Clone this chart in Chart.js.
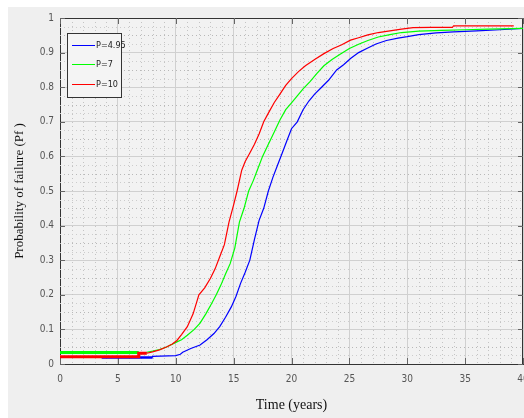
<!DOCTYPE html>
<html>
<head>
<meta charset="utf-8">
<script src="https://cdn.jsdelivr.net/npm/chart.js@4.4.1/dist/chart.umd.min.js"></script>
<style>
  html, body { margin: 0; padding: 0; background: #fff; overflow: hidden; }
  #wrap { width: 540px; height: 418px; }
</style>
</head>
<body>
<div id="wrap"><canvas id="pfChart" width="540" height="418"></canvas></div>
<script>
// tick labels
const xTicks = [0, 5, 10, 15, 20, 25, 30, 35, 40];
const yTicks = [0, 0.1, 0.2, 0.3, 0.4, 0.5, 0.6, 0.7, 0.8, 0.9, 1];

// series labels
const seriesLabels = ['P=4.95', 'P=7', 'P=10'];

// P=4.95 (blue)
const yearsBlue = [3.6, 8.0, 8.0, 10.0, 10.4, 10.6, 11.3, 12.1, 12.7, 13.3, 13.8, 14.3, 14.8, 15.2, 15.6, 16.0, 16.4, 16.8, 17.2, 17.6, 18.0, 18.4, 18.8, 19.2, 19.6, 20.0, 20.5, 21.0, 21.5, 22.0, 22.6, 23.2, 23.9, 24.5, 25.1, 25.8, 26.5, 27.3, 28.2, 29.2, 30.0, 31.0, 32.5, 34.0, 36.0, 38.0, 40.0];
const probBlue = [0.019, 0.019, 0.022, 0.024, 0.028, 0.034, 0.045, 0.055, 0.07, 0.088, 0.108, 0.135, 0.165, 0.195, 0.233, 0.265, 0.30, 0.36, 0.415, 0.45, 0.50, 0.54, 0.575, 0.61, 0.645, 0.68, 0.70, 0.735, 0.76, 0.78, 0.80, 0.82, 0.85, 0.865, 0.883, 0.9, 0.912, 0.925, 0.935, 0.942, 0.946, 0.952, 0.957, 0.96, 0.963, 0.966, 0.97];

// P=7 (green)
const yearsGreen = [0, 6.8, 7.5, 8.0, 8.6, 9.2, 9.7, 10.1, 10.5, 11.0, 11.6, 12.1, 12.6, 13.1, 13.5, 13.9, 14.3, 14.7, 15.1, 15.5, 15.9, 16.3, 16.7, 17.1, 17.5, 18.0, 18.5, 19.0, 19.5, 20.0, 20.5, 21.0, 21.6, 22.2, 22.8, 23.5, 24.2, 25.0, 25.8, 26.6, 27.5, 28.5, 29.5, 31.0, 33.0, 35.0, 37.0, 40.0];
const probGreen = [0.033, 0.033, 0.034, 0.037, 0.042, 0.049, 0.057, 0.064, 0.07, 0.083, 0.1, 0.118, 0.145, 0.175, 0.2, 0.228, 0.26, 0.29, 0.335, 0.41, 0.45, 0.5, 0.53, 0.565, 0.6, 0.635, 0.67, 0.705, 0.735, 0.755, 0.775, 0.795, 0.816, 0.84, 0.862, 0.88, 0.895, 0.912, 0.924, 0.935, 0.945, 0.952, 0.958, 0.962, 0.964, 0.966, 0.968, 0.97];

// P=10 (red)
const yearsRed = [0, 6.8, 6.8, 7.5, 8.0, 8.6, 9.2, 9.7, 10.1, 10.5, 11.0, 11.5, 12.0, 12.5, 13.0, 13.4, 13.8, 14.2, 14.6, 15.0, 15.3, 15.7, 16.0, 16.4, 16.8, 17.2, 17.6, 18.0, 18.5, 19.0, 19.5, 20.0, 20.6, 21.2, 22.0, 22.8, 23.6, 24.3, 25.1, 25.8, 26.6, 27.5, 28.5, 29.5, 30.5, 32.0, 33.9, 34.0, 36.0, 39.2];
const probRed = [0.021, 0.021, 0.031, 0.031, 0.035, 0.041, 0.049, 0.058, 0.068, 0.085, 0.108, 0.145, 0.2, 0.22, 0.248, 0.275, 0.31, 0.345, 0.41, 0.46, 0.50, 0.56, 0.585, 0.61, 0.635, 0.665, 0.70, 0.725, 0.755, 0.78, 0.805, 0.825, 0.845, 0.862, 0.88, 0.897, 0.912, 0.922, 0.936, 0.943, 0.951, 0.958, 0.963, 0.968, 0.972, 0.973, 0.973, 0.977, 0.977, 0.977];

const colors = ['#0000ff', '#00ff00', '#ff0000'];
const tickFont = { family: "'Liberation Sans Narrow', 'DejaVu Sans Condensed', 'Liberation Sans', sans-serif", size: 10 };

function pts(xs, ys) {
    return xs.map((x, i) => ({ x: x, y: ys[i] }));
}

// figure background + plot frame, minor grid, inward ticks
const matlabLook = {
    id: 'matlabLook',
    beforeDraw(chart) {
        const c = chart.ctx;
        c.save();
        c.fillStyle = '#ffffff';
        c.fillRect(0, 0, chart.width, chart.height);
        c.fillStyle = '#efefef';
        c.fillRect(8, 7, chart.width - 8, chart.height - 7);
        const a = chart.chartArea;
        c.fillStyle = '#f2f2f2';
        c.fillRect(a.left, a.top, a.right - a.left, a.bottom - a.top);
        c.restore();
    },
    beforeDatasetsDraw(chart) {
        const c = chart.ctx;
        const a = chart.chartArea;
        const xs = chart.scales.x, ys = chart.scales.y;
        c.save();
        c.strokeStyle = '#c4c4c4';
        c.lineWidth = 1;
        c.setLineDash([1, 3]);
        for (let t = 1; t < 40; t++) {
            if (t % 5 === 0) continue;
            const px = Math.round(xs.getPixelForValue(t)) + 0.5;
            c.beginPath(); c.moveTo(px, a.top); c.lineTo(px, a.bottom); c.stroke();
        }
        for (let k = 1; k < 40; k++) {
            if (k % 4 === 0) continue;
            const py = Math.round(ys.getPixelForValue(k * 0.025)) + 0.5;
            c.strokeStyle = k % 2 === 0 ? '#b8b8b8' : '#cccccc';
            c.beginPath(); c.moveTo(a.left, py); c.lineTo(a.right, py); c.stroke();
        }
        c.setLineDash([]);
        // frame top/right
        c.strokeStyle = '#333';
        c.beginPath();
        c.moveTo(a.left, a.top + 0.5); c.lineTo(a.right, a.top + 0.5);
        c.moveTo(a.right - 0.5, a.top); c.lineTo(a.right - 0.5, a.bottom);
        c.stroke();
        // inward ticks
        c.strokeStyle = '#666';
        xTicks.forEach(t => {
            const px = Math.round(xs.getPixelForValue(t)) + 0.5;
            c.beginPath();
            c.moveTo(px, a.bottom); c.lineTo(px, a.bottom - 6);
            c.moveTo(px, a.top); c.lineTo(px, a.top + 6);
            c.stroke();
        });
        yTicks.forEach(v => {
            const py = Math.round(ys.getPixelForValue(v)) + 0.5;
            c.beginPath();
            c.moveTo(a.left, py); c.lineTo(a.left + 5, py);
            c.moveTo(a.right, py); c.lineTo(a.right - 5, py);
            c.stroke();
        });
        c.restore();
    },
    afterDatasetsDraw(chart) {
        // legend box in the upper left of the plot
        const c = chart.ctx;
        c.save();
        c.fillStyle = '#f4f4f4';
        c.fillRect(67, 33, 54, 64);
        c.strokeStyle = '#333';
        c.lineWidth = 1;
        c.strokeRect(67.5, 33.5, 54, 64);
        c.font = "9px 'Liberation Sans Narrow', 'DejaVu Sans Condensed', 'Liberation Sans', sans-serif";
        c.textBaseline = 'middle';
        const rowY = [45.5, 64.5, 84.5];
        chart.data.datasets.forEach((ds, i) => {
            c.strokeStyle = ds.borderColor;
            c.beginPath(); c.moveTo(72, rowY[i]); c.lineTo(95, rowY[i]); c.stroke();
            c.fillStyle = '#222';
            c.fillText(ds.label, 96, rowY[i] + 0.5);
        });
        c.restore();
    }
};

const ctx = document.getElementById('pfChart').getContext('2d');
new Chart(ctx, {
    type: 'line',
    data: {
        datasets: [
            { label: seriesLabels[0], data: pts(yearsBlue, probBlue), borderColor: colors[0], order: 3,
              segment: { borderWidth: s => s.p0.parsed.x < 7.9 ? 2.5 : 1.2 } },
            { label: seriesLabels[1], data: pts(yearsGreen, probGreen), borderColor: colors[1], order: 2,
              segment: { borderWidth: s => s.p0.parsed.x < 6.7 ? 3 : 1.2 } },
            { label: seriesLabels[2], data: pts(yearsRed, probRed), borderColor: colors[2], order: 1,
              segment: { borderWidth: s => s.p0.parsed.x < 7.4 ? 3 : 1.2 } }
        ]
    },
    options: {
        responsive: false,
        animation: false,
        devicePixelRatio: 1,
        layout: { padding: { top: 18, right: 17, left: 0, bottom: 0 } },
        elements: { point: { radius: 0 }, line: { borderWidth: 1.2, tension: 0 } },
        plugins: { legend: { display: false }, tooltip: { enabled: false } },
        scales: {
            x: {
                type: 'linear', min: 0, max: 40,
                afterFit: s => { s.height = 54; },
                afterBuildTicks: s => { s.ticks = xTicks.map(v => ({ value: v })); },
                grid: { color: '#d0d0d0', drawTicks: false },
                border: { color: '#333' },
                ticks: { font: tickFont, color: '#555', padding: 9 },
                title: { display: true, text: 'Time (years)', color: '#111', padding: { top: 0, bottom: 4 },
                         font: { family: "'Liberation Serif', 'DejaVu Serif', serif", size: 14 } }
            },
            y: {
                min: 0, max: 1,
                afterFit: s => { s.width = 60; },
                afterBuildTicks: s => { s.ticks = yTicks.map(v => ({ value: v })); },
                grid: { color: '#d0d0d0', drawTicks: false },
                border: { color: '#333' },
                ticks: { font: tickFont, color: '#555', padding: 6, callback: v => String(+v.toFixed(1)) },
                title: { display: true, text: 'Probability of failure (Pf )', color: '#111', padding: { top: 12, bottom: 0 },
                         font: { family: "'Liberation Serif', 'DejaVu Serif', serif", size: 13 } }
            }
        }
    },
    plugins: [matlabLook]
});
</script>
</body>
</html>
